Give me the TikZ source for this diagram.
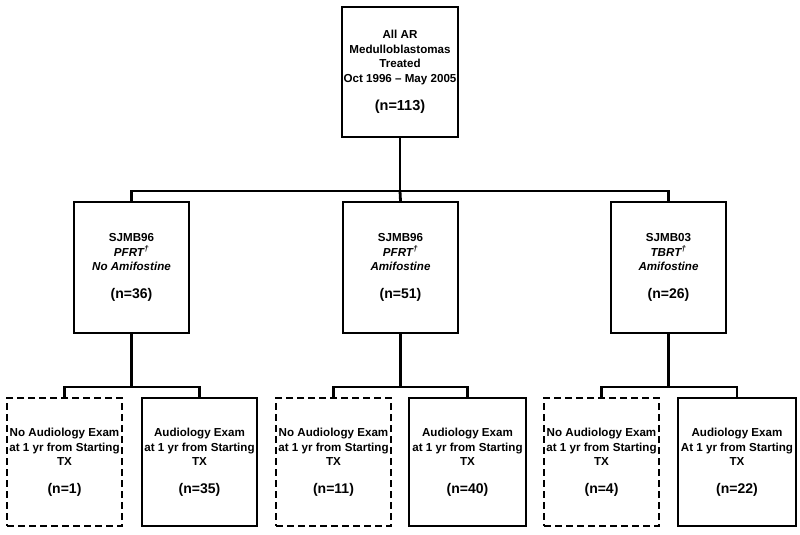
\documentclass[tikz,border=0pt]{standalone}
\usepackage{fontspec}
\setmainfont{Liberation Sans}
\newcommand{\nline}[1]{{\fontsize{14}{15}\selectfont #1}}
\begin{document}
\begin{tikzpicture}[x=1pt,y=-1pt,
  box/.style={draw=black,line width=1.6pt,rectangle,inner sep=0pt,
    minimum width=115pt,align=center,
    font=\fontsize{11.6}{14.5}\selectfont\bfseries},
  solidbox/.style={box},
  dashbox/.style={box,dash pattern=on 7pt off 4pt},
  conn/.style={line width=2.8pt,line join=miter}]
\useasboundingbox (0,0) rectangle (800,535);
% top
\node[solidbox,minimum width=116pt,minimum height=130pt] (top) at (400,72)
  {All AR\\Medulloblastomas\\Treated\\Oct 1996 -- May 2005\\[14pt]{\fontsize{14.5}{15}\selectfont (n=113)}};
% middle row
\node[solidbox,minimum height=131pt] (m1) at (131.5,267.5)
  {SJMB96\\\textit{PFRT\textsuperscript{†}}\\\textit{No Amifostine}\\[13pt]\nline{(n=36)}};
\node[solidbox,minimum height=131pt] (m2) at (400.5,267.5)
  {SJMB96\\\textit{PFRT\textsuperscript{†}}\\\textit{Amifostine}\\[13pt]\nline{(n=51)}};
\node[solidbox,minimum height=131pt] (m3) at (668.5,267.5)
  {SJMB03\\\textit{TBRT\textsuperscript{†}}\\\textit{Amifostine}\\[13pt]\nline{(n=26)}};
% bottom row
\node[dashbox,minimum height=128pt] (b1) at (64.5,462)
  {No Audiology Exam\\at 1 yr from Starting\\TX\\[13pt]\nline{(n=1)}};
\node[solidbox,minimum height=128pt] (b2) at (199.5,462)
  {Audiology Exam\\at 1 yr from Starting\\TX\\[13pt]\nline{(n=35)}};
\node[dashbox,minimum height=128pt] (b3) at (333.5,462)
  {No Audiology Exam\\at 1 yr from Starting\\TX\\[13pt]\nline{(n=11)}};
\node[solidbox,minimum width=117pt,minimum height=128pt] (b4) at (467.5,462)
  {Audiology Exam\\at 1 yr from Starting\\TX\\[13pt]\nline{(n=40)}};
\node[dashbox,minimum height=128pt] (b5) at (601.5,462)
  {No Audiology Exam\\at 1 yr from Starting\\TX\\[13pt]\nline{(n=4)}};
\node[solidbox,minimum width=118pt,minimum height=128pt] (b6) at (737,462)
  {Audiology Exam\\At 1 yr from Starting\\TX\\[13pt]\nline{(n=22)}};
% connectors
\coordinate (j0) at (400,191);
\draw[conn] (top.south) -- (j0);
\draw[conn] (m1.north) |- (j0);
\draw[conn] (m3.north) |- (j0);
\draw[conn] (m2.north) -- (j0);
\coordinate (j1) at (131.5,387);
\coordinate (j2) at (400.5,387);
\coordinate (j3) at (668.5,387);
\draw[conn] (m1.south) -- (j1);
\draw[conn] (b1.north) |- (j1);
\draw[conn] (b2.north) |- (j1);
\draw[conn] (m2.south) -- (j2);
\draw[conn] (b3.north) |- (j2);
\draw[conn] (b4.north) |- (j2);
\draw[conn] (m3.south) -- (j3);
\draw[conn] (b5.north) |- (j3);
\draw[conn] (b6.north) |- (j3);
\end{tikzpicture}
\end{document}
